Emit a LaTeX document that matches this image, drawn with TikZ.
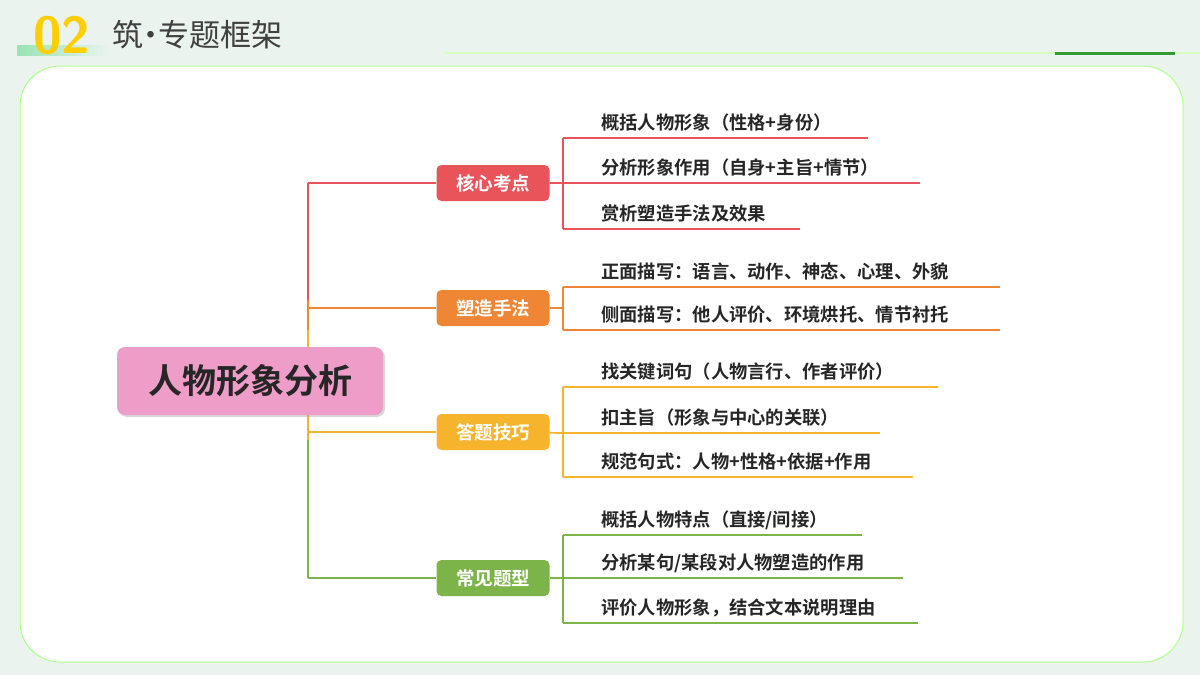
\documentclass[tikz,border=0pt]{standalone}
\usepackage{fontspec}
\setmainfont{Noto Sans CJK SC}
\newfontfamily\cjkb{Noto Sans CJK SC Bold}
\usetikzlibrary{shadows}
\definecolor{cR}{HTML}{E8545A}
\definecolor{cO}{HTML}{EF8636}
\definecolor{cY}{HTML}{F6B42C}
\definecolor{cG}{HTML}{7CB44A}
\definecolor{cP}{HTML}{EE9CC8}
\definecolor{bg}{HTML}{EAF3EE}
\tikzset{
 br/.style={rounded corners=5pt,minimum width=113pt,minimum height=36pt,text=white,font=\cjkb\fontsize{18.5}{18.5}\selectfont,inner sep=0pt},
 lf/.style={anchor=south west,font=\cjkb\fontsize{18.3}{18.3}\selectfont,text=black!85,inner xsep=0pt,inner ysep=5pt,minimum height=30pt},
 ln/.style={line width=1.7pt}
}
\begin{document}
\begin{tikzpicture}[x=1pt,y=-1pt]
\useasboundingbox (0,0) rectangle (1200,675);
\fill[bg] (0,0) rectangle (1200,675);
\fill[left color=green!45!teal!40,right color=bg] (17,45) rectangle (110,55);
\draw[green!50!lime!25,line width=1.5pt] (445,53) -- (1200,53);
\draw[green!50!black!80,line width=3pt] (1055,53) -- (1175,53);
\node[anchor=west,text=orange!30!yellow!95!red,font=\bfseries\sffamily\fontsize{52}{52}\selectfont,inner sep=0] (num) at (33,35) {02};
\node[anchor=west,text=black!75,font=\fontsize{31}{31}\selectfont,inner sep=0] (ttl) at (112,35) {筑\hspace{-0.25em}·\hspace{-0.25em}专题框架};
\draw[fill=white,draw=green!60!lime!45,line width=1pt,rounded corners=40pt] (20,66) rectangle (1183,662);
% trunk
\coordinate (t1) at (308,183); \coordinate (t4) at (308,578);
\draw[ln,cR] (308,183) -- (308,300);
\draw[ln,cO] (308,300) -- (308,330);
\draw[ln,cY] (308,330) -- (308,440);
\draw[ln,cG] (308,440) -- (t4);
\node[br,fill=cR] (b1) at (493,183) {核心考点};
\node[br,fill=cO] (b2) at (493,308) {塑造手法};
\node[br,fill=cY] (b3) at (493,432) {答题技巧};
\node[br,fill=cG] (b4) at (493,578) {常见题型};
\draw[ln,cR] (t1) -- (b1);
\draw[ln,cO] (308,308) -- (b2);
\draw[ln,cY] (308,432) -- (b3);
\draw[ln,cG] (t4) -- (b4);
\node[rounded corners=8pt,fill=cP,minimum width=266pt,minimum height=68pt,font=\cjkb\fontsize{34}{34}\selectfont,text=black!85,drop shadow={opacity=0.3,shadow xshift=2pt,shadow yshift=-2pt}] (c) at (250,381) {人物形象分析};
% leaves
\foreach \col/\b/\lst in {cR/b1/{138/1/{概括人物形象（性格+身份）}/868,183/2/{分析形象作用（自身+主旨+情节）}/920,229/3/{赏析塑造手法及效果}/800},
 cO/b2/{287/4/{正面描写：语言、动作、神态、心理、外貌}/1000,330/5/{侧面描写：他人评价、环境烘托、情节衬托}/1000},
 cY/b3/{387/6/{找关键词句（人物言行、作者评价）}/938,433/7/{扣主旨（形象与中心的关联）}/880,477/8/{规范句式：人物+性格+依据+作用}/913},
 cG/b4/{535/9/{概括人物特点（直接/间接）}/862,578/10/{分析某句/某段对人物塑造的作用}/903,623/11/{评价人物形象，结合文本说明理由}/918}}{
 \foreach \y/\n/\t/\e in \lst {
  \node[lf] (l\n) at (601,\y) {\t};
  \coordinate (s\n) at (563,\y); \coordinate (e\n) at (\e,\y);
  \draw[ln,\col] (s\n) -- (e\n);
 }
}
\draw[ln,cR] (s1) -- (s3); \draw[ln,cR] (b1) -- (s2);
\draw[ln,cO] (s4) -- (s5); \draw[ln,cO] (b2) -- (563,308);
\draw[ln,cY] (s6) -- (s8); \draw[ln,cY] (b3) -- (s7);
\draw[ln,cG] (s9) -- (s11); \draw[ln,cG] (b4) -- (s10);
\end{tikzpicture}
\end{document}
